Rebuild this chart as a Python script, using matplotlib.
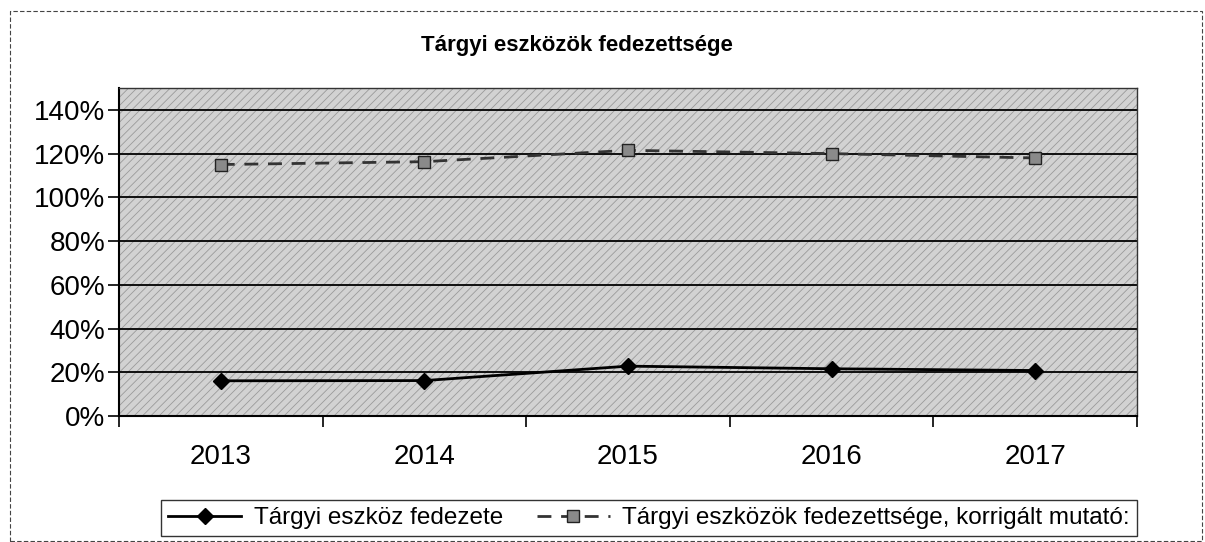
import matplotlib
matplotlib.use("Agg")
import matplotlib.pyplot as plt
from matplotlib.patches import Rectangle
from matplotlib.ticker import FuncFormatter, FixedLocator

years = ["2013", "2014", "2015", "2016", "2017"]
fedezet = [0.161, 0.162, 0.228, 0.216, 0.208]
korrigalt = [1.150, 1.163, 1.215, 1.200, 1.180]
title = "Tárgyi eszközök fedezettsége"
label1 = "Tárgyi eszköz fedezete"
label2 = "Tárgyi eszközök fedezettsége, korrigált mutató:"

plt.rcParams['font.family'] = ['Liberation Sans', 'DejaVu Sans']
plt.rcParams['hatch.linewidth'] = 0.6

W, H = 1205, 542
fig = plt.figure(figsize=(W / 100, H / 100), dpi=100)
ax = fig.add_axes([119 / W, 1 - 416 / H, (1137 - 119) / W, (416 - 88) / H])

ax.set_facecolor('#d2d2d2')
bg = Rectangle((0, 0), 1, 1, transform=ax.transAxes, facecolor='none',
               edgecolor='#9a9a9a', hatch='////', linewidth=0, zorder=0)
ax.add_patch(bg)

x = list(range(len(years)))
ax.plot(x, fedezet, color='black', linewidth=2, marker='D', markersize=8,
        markerfacecolor='black', markeredgecolor='black', label=label1, zorder=4)
ax.plot(x, korrigalt, color='#333333', linewidth=2, linestyle=(0, (5, 3.5)),
        marker='s', markersize=8, markerfacecolor='#8a8a8a',
        markeredgecolor='#222222', label=label2, zorder=4)

ax.set_xlim(-0.5, len(years) - 0.5)
ax.set_ylim(0, 1.5)
yt = [0, 0.2, 0.4, 0.6, 0.8, 1.0, 1.2, 1.4]
ax.yaxis.set_major_locator(FixedLocator(yt))
ax.yaxis.set_major_formatter(FuncFormatter(lambda v, p: f"{v * 100:.0f}%"))
ax.grid(axis='y', color='black', linewidth=1.3, zorder=1)
ax.set_axisbelow(True)

ax.set_xticks(x)
ax.set_xticklabels(years, fontsize=20)
ax.set_xticks([i + 0.5 for i in range(-1, len(years))], minor=True)
ax.tick_params(axis='x', which='major', length=0, pad=20)
ax.tick_params(axis='x', which='minor', length=8, width=1.2, direction='out')
ax.tick_params(axis='y', labelsize=20, length=8, width=1.2, direction='out', pad=2)

for s in ['left', 'bottom']:
    ax.spines[s].set_linewidth(1.5)
    ax.spines[s].set_color('black')
for s in ['top', 'right']:
    ax.spines[s].set_linewidth(1.0)
    ax.spines[s].set_color('#333333')

fig.text(577 / W, 1 - 45 / H, title, ha='center', va='center',
         fontsize=16, fontweight='bold')

leg = fig.legend(loc='center', bbox_to_anchor=(649 / W, 1 - 518 / H), ncol=2,
                 fontsize=17.5, frameon=True, fancybox=False, edgecolor='black',
                 handlelength=3.0, columnspacing=1.4, handletextpad=0.5,
                 borderpad=0.3)
leg.get_frame().set_linewidth(1.0)

fig.patches.append(Rectangle((10 / W, 1 - 541 / H), (1202 - 10) / W, (541 - 11) / H,
                             transform=fig.transFigure, fill=False,
                             edgecolor='#444444', linewidth=0.8,
                             linestyle=(0, (4, 2))))

fig.savefig('out.png', dpi=100)
